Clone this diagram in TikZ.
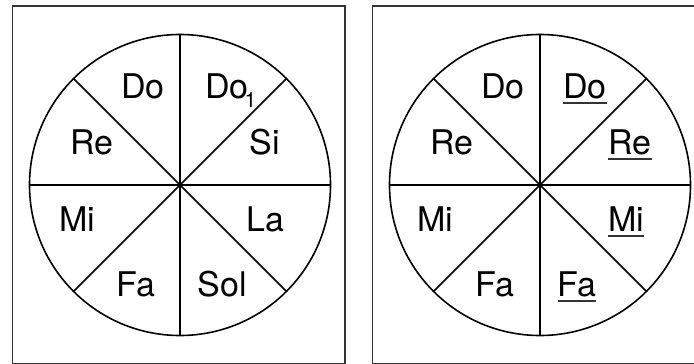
\documentclass[tikz,border=0pt]{standalone}
\usepackage{fontspec}
\setmainfont{TeX Gyre Heros}
\usepackage{tikz}
\usetikzlibrary{positioning}
\newcommand{\lineunder}[1]{\setbox0\hbox{#1}\rlap{\color{black!80}\rule[-5pt]{\wd0}{1.8pt}}\box0}
\newcommand{\subone}{\kern-4pt\raisebox{-9pt}{\fontsize{21}{21}\selectfont 1}}

\begin{document}
\begin{tikzpicture}[
    x=1pt, y=1pt,
    frame/.style={draw=black!80, line width=1.3pt},
    wheel/.style={circle, draw=black, line width=1.6pt, minimum size=301pt,
                  inner sep=0pt},
    spoke/.style={draw=black, line width=1.5pt},
    tone/.style={font=\fontsize{34}{38}\selectfont, inner sep=0pt, anchor=base},
]
    \useasboundingbox (0,0) rectangle (694,364);

    % frames
    \draw[frame] (12.3,0.7) rectangle (345,358);
    \draw[frame] (372.3,0.7) rectangle (705,358);

    % left wheel
    \node[wheel] (wheelL) at (180,179) {};
    \foreach \a in {0,45,90,135}
        \draw[spoke] (wheelL.\a) -- (wheelL.\a+180);

    \node[tone] (doL)  at (143,265) {Do};
    \node[tone, anchor=base west] (doone) at (205,265) {Do\subone};
    \node[tone] (reL)  at (92,209)  {Re};
    \node[tone] (si)   at (265,209) {Si};
    \node[tone] (miL)  at (77,132)  {Mi};
    \node[tone] (la)   at (265,132) {La};
    \node[tone] (faL)  at (136,67)  {Fa};
    \node[tone] (sol)  at (222,67)  {Sol};

    % right wheel
    \node[wheel] (wheelR) at (540,179) {};
    \foreach \a in {0,45,90,135}
        \draw[spoke] (wheelR.\a) -- (wheelR.\a+180);

    \node[tone] (doR)  at (503,265) {Do};
    \node[tone] (doU)  at (585,265) {\lineunder{Do}};
    \node[tone] (reR)  at (452,209) {Re};
    \node[tone] (reU)  at (630,209) {\lineunder{Re}};
    \node[tone] (miR)  at (435,132) {Mi};
    \node[tone] (miU)  at (626,132) {\lineunder{Mi}};
    \node[tone] (faR)  at (495,67)  {Fa};
    \node[tone] (faU)  at (577,67)  {\lineunder{Fa}};
\end{tikzpicture}
\end{document}
